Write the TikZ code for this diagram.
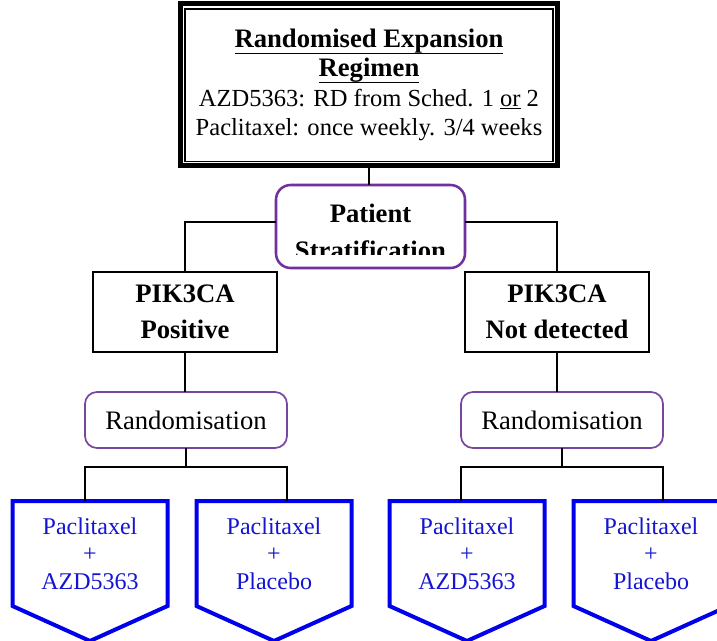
\documentclass[tikz,border=0pt]{standalone}
\usepackage{fontspec}
\setmainfont{Liberation Serif}
\usetikzlibrary{calc}
\definecolor{pstrat}{RGB}{112,48,160}
\definecolor{prand}{RGB}{120,70,160}
\definecolor{pblue}{RGB}{0,0,235}
\definecolor{tblue}{RGB}{20,20,210}
\newcommand\headul[1]{\underline{\raisebox{0pt}[\height][2.6pt]{#1}}}
\begin{document}
\begin{tikzpicture}[x=0.75pt,y=-0.75pt,
  conn/.style={line width=1.5pt},
  pikbox/.style={draw,line width=1.5pt,minimum width=138pt,minimum height=60pt,align=center,outer sep=0pt,font=\fontsize{20}{27}\selectfont\bfseries},
  randbox/.style={draw=prand,line width=1.3pt,rounded corners=9pt,minimum width=151.5pt,minimum height=42pt,outer sep=0pt,font=\fontsize{20}{24}\selectfont},
  armbox/.style={minimum width=116.25pt,minimum height=78.75pt,align=center,outer sep=0pt,text=tblue,font=\fontsize{18}{20.6}\selectfont},
  armline/.style={draw=pblue,line width=3pt,line join=miter},
  strattext/.style={anchor=base,font=\fontsize{20}{24}\selectfont\bfseries}]
\useasboundingbox (0,0) rectangle (717,641);
\fill[white] (0,0) rectangle (717,641);

% top box
\node[draw,line width=3.75pt,outer sep=0pt,minimum width=282.75pt,minimum height=121.5pt,align=center,font=\fontsize{18.4}{22}\selectfont] (top) at (369,85)
  {{\fontsize{20}{22}\selectfont\bfseries\headul{Randomised Expansion}}\\
   {\fontsize{20}{22}\selectfont\bfseries\headul{Regimen}}\\
   AZD5363: RD from Sched. 1 \underline{or} 2\\
   Paclitaxel: once weekly. 3/4 weeks};
\draw[line width=1.1pt] ($(top.north west)+(4.5,5)$) rectangle ($(top.south east)+(-4.5,-4.5)$);

% patient stratification
\node[draw=pstrat,line width=1.9pt,rounded corners=11pt,minimum width=141.75pt,minimum height=62.25pt,outer sep=0pt] (pat) at (370.5,226.5) {};
\begin{scope}
  \clip (277,186) rectangle (464,254.5);
  \node[strattext] (patA) at (370.5,223) {Patient};
  \node[strattext] (patB) at (370.5,259.5) {Stratification};
\end{scope}

% PIK3CA boxes
\node[pikbox] (pos) at (185,312) {PIK3CA\\Positive};
\node[pikbox] (nd) at (557,312) {PIK3CA\\Not detected};

% randomisation
\node[randbox] (rl) at (186,420) {Randomisation};
\node[randbox] (rr) at (562,420) {Randomisation};

% arms
\node[armbox] (a1) at (90,553.5) {Paclitaxel\\+\\AZD5363};
\node[armbox] (a2) at (274,553.5) {Paclitaxel\\+\\Placebo};
\node[armbox] (a3) at (467,553.5) {Paclitaxel\\+\\AZD5363};
\node[armbox] (a4) at (651,553.5) {Paclitaxel\\+\\Placebo};
\foreach \n in {a1,a2,a3,a4}
  \draw[armline] (\n.north west) -- (\n.north east) -- (\n.south east) -- ($(\n.south)+(0,35)$) -- (\n.south west) -- cycle;

% connectors
\draw[conn] (top.south) -- (top.south |- pat.north);
\draw[conn] ([yshift=3.4pt]pat.west) -| (pos.north);
\draw[conn] ([yshift=3.4pt]pat.east) -| (nd.north);
\draw[conn] (pos.south) -- (pos.south |- rl.north);
\draw[conn] (nd.south) -- (nd.south |- rr.north);

\coordinate (lb) at (186,467);
\coordinate (rb) at (562,467);
\draw[conn] (rl.south) -- (lb);
\draw[conn] (rl.west |- a1.north) -- (rl.west |- lb) -- (rl.east |- lb) -- (rl.east |- a2.north);
\draw[conn] (rr.south) -- (rb);
\draw[conn] (rr.west |- a3.north) -- (rr.west |- rb) -- (rr.east |- rb) -- (rr.east |- a4.north);
\end{tikzpicture}
\end{document}
